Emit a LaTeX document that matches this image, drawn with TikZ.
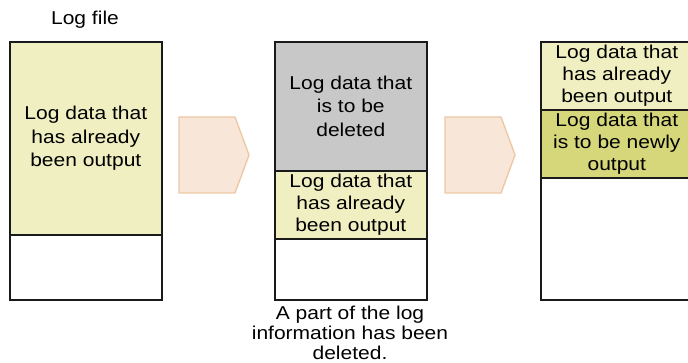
\documentclass[tikz,border=0pt]{standalone}
\usepackage{fontspec}
\setmainfont[FakeStretch=1.13]{Liberation Sans}
\definecolor{inkline}{HTML}{1A1A1A}
\definecolor{paleyellow}{HTML}{EFEFC1}
\definecolor{oliveyellow}{HTML}{D6D67A}
\definecolor{deletegray}{HTML}{C8C8C8}
\definecolor{arrowfill}{HTML}{F8E7D8}
\definecolor{arrowedge}{HTML}{EDC9A6}
\tikzset{
  cell/.style={draw=inkline, line width=1.6pt, rectangle, anchor=north west,
    inner sep=0pt, minimum width=152pt, align=center,
    font=\fontsize{18.6}{22}\selectfont},
  widecell/.style={cell, font=\fontsize{18.6}{23.5}\selectfont},
  caption/.style={align=center, inner sep=0pt, font=\fontsize{18.6}{20}\selectfont},
  blockarrow/.style={fill=arrowfill, draw=arrowedge, line width=1.4pt, line join=miter},
}
\begin{document}
\begin{tikzpicture}[x=1pt, y=-1pt]
  \useasboundingbox (0,0) rectangle (688,363);
  \clip (0,0) rectangle (688,363);

  % File before the deletion
  \node[caption] (title) at (85,20) {Log file};
  \node[widecell, fill=paleyellow, minimum height=193pt] (f1out) at (9,41)
    {Log data that\\has already\\been output};
  \node[cell, fill=white, minimum height=65pt] (f1free) at (9,234) {};

  % Arrow to the second state
  \draw[blockarrow] (179,117) -- (235,117) -- (249,155) -- (235,193) -- (179,193) -- cycle;

  % File after part of it has been deleted
  \node[widecell, fill=deletegray, minimum height=129pt] (f2del) at (274,41)
    {Log data that\\is to be\\deleted};
  \node[cell, fill=paleyellow, minimum height=68pt] (f2out) at (274,170)
    {Log data that\\has already\\been output};
  \node[cell, fill=white, minimum height=61pt] (f2free) at (274,238) {};
  \node[caption] (note) at (350,333)
    {A part of the log\\information has been\\deleted.};

  % Arrow to the third state
  \draw[blockarrow] (445,117) -- (501,117) -- (515,155) -- (501,193) -- (445,193) -- cycle;

  % File with the newly written data
  \node[cell, fill=paleyellow, minimum height=68pt] (f3out) at (540,41)
    {Log data that\\has already\\been output};
  \node[cell, fill=oliveyellow, minimum height=68pt] (f3new) at (540,109)
    {Log data that\\is to be newly\\output};
  \node[cell, fill=white, minimum height=122pt] (f3free) at (540,177) {};
\end{tikzpicture}
\end{document}
